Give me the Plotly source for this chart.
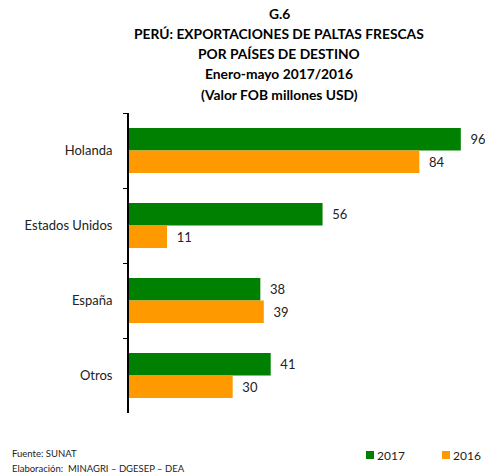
import plotly.graph_objects as go

categories = ["Holanda", "Estados Unidos", "España", "Otros"]
values_2017 = [96, 56, 38, 41]
values_2016 = [84, 11, 39, 30]
series_names = ["2017", "2016"]
series_colors = ["#008000", "#FF9900"]
title_lines = ["G.6", "PERÚ: EXPORTACIONES DE PALTAS FRESCAS", "POR PAÍSES DE DESTINO",
               "Enero-mayo 2017/2016", "(Valor FOB millones USD)"]
source_lines = ["Fuente: SUNAT", "Elaboración:  MINAGRI – DGESEP – DEA"]

FONT = "Lato"
W, H = 485, 474
ML, MR, MT, MB = 129, 0, 113, 61
plot_w = W - ML - MR
plot_h = H - MT - MB

def py(pixel_y):
    return (H - MB - pixel_y) / plot_h

def px(pixel_x):
    return (pixel_x - ML) / plot_w

fig = go.Figure()
for name, vals, col in zip(series_names, [values_2017, values_2016], series_colors):
    fig.add_trace(go.Bar(
        y=categories, x=vals, name=name, orientation="h",
        marker=dict(color=col, line=dict(width=0)),
        texttemplate="\u00a0\u00a0%{x}", textposition="outside", cliponaxis=False,
        textfont=dict(family=FONT, size=13, color="#222222"),
    ))

annotations = []
shapes = []
title_y = [13, 34, 53, 73, 94]
for line, yp in zip(title_lines, title_y):
    annotations.append(dict(
        text="<b>" + line + "</b>", xref="paper", yref="paper",
        x=px(279), y=py(yp), xanchor="center", yanchor="middle",
        showarrow=False, font=dict(family=FONT, size=13.8, color="#000000"),
    ))
for line, yp in zip(source_lines, [453, 468]):
    annotations.append(dict(
        text=line, xref="paper", yref="paper",
        x=px(10), y=py(yp), xanchor="left", yanchor="middle",
        showarrow=False, font=dict(family=FONT, size=9.5, color="#222222"),
    ))
# legend: coloured key squares + series names
for name, col, xs in zip(series_names, series_colors, [366, 442]):
    shapes.append(dict(
        type="rect", xref="paper", yref="paper",
        x0=px(xs), x1=px(xs + 8), y0=py(459), y1=py(451),
        fillcolor=col, line=dict(width=0),
    ))
    annotations.append(dict(
        text=name, xref="paper", yref="paper",
        x=px(xs + 9), y=py(455), xanchor="left", yanchor="middle",
        showarrow=False, font=dict(family=FONT, size=12, color="#222222"),
    ))

fig.update_layout(
    width=W, height=H,
    margin=dict(l=ML, r=MR, t=MT, b=MB),
    paper_bgcolor="white", plot_bgcolor="white",
    barmode="group", bargap=0.4, bargroupgap=0,
    showlegend=False,
    xaxis=dict(range=[0, 103], showgrid=False, zeroline=False, showline=False,
               showticklabels=False, ticks="", automargin=False),
    yaxis=dict(autorange="reversed", showgrid=False, showline=True, linecolor="black",
               linewidth=2, ticks="outside", ticklen=4, tickcolor="black", tickwidth=1,
               tickson="boundaries", ticklabelstandoff=12, automargin=False,
               tickfont=dict(family=FONT, size=13, color="#222222")),
    annotations=annotations,
    shapes=shapes,
    font=dict(family=FONT),
)

fig.write_html("out.html", config={"displayModeBar": False},
               post_script="document.body.style.margin='0';document.body.style.overflow='hidden';")
